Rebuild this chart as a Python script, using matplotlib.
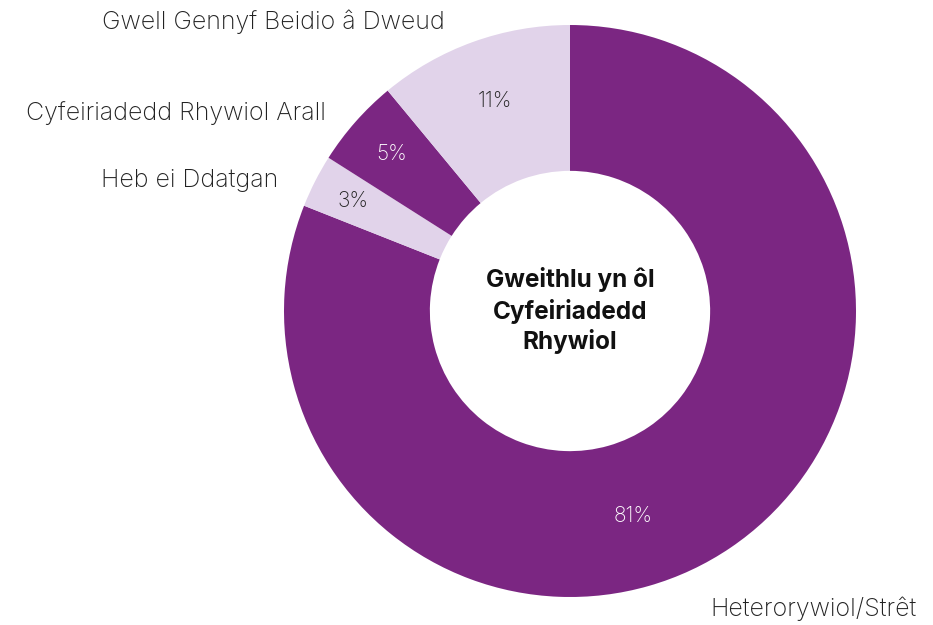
import numpy as np
import matplotlib.pyplot as plt

categories = ["Heterorywiol/Strêt", "Heb ei Ddatgan",
              "Cyfeiriadedd Rhywiol Arall", "Gwell Gennyf Beidio â Dweud"]
values = [81, 3, 5, 11]
colors = ["#7b2682", "#e1d3ea", "#7b2682", "#e1d3ea"]
pct_colors = ["white", "#222222", "white", "#222222"]
centre_title = "Gweithlu yn ôl\nCyfeiriadedd\nRhywiol"

plt.rcParams["font.family"] = ["Inter", "DejaVu Sans"]

W, H = 933, 625
cx, cy, R = 570, 311, 286

fig = plt.figure(figsize=(W / 100, H / 100), dpi=100)
ax = fig.add_axes([0, 0, 1, 1])

wedges, _ = ax.pie(values, colors=colors, startangle=90, counterclock=False,
                   radius=1, wedgeprops=dict(width=0.51, linewidth=0))

# pie() resets the limits, so set them afterwards
ax.set_xlim(-cx / R, (W - cx) / R)
ax.set_ylim(-(H - cy) / R, cy / R)
ax.set_aspect("equal")
ax.axis("off")

# percentage labels sit inside the ring at each wedge's middle angle
pct_r = [0.75, 0.85, 0.83, 0.78]
angle_shift = [-17, 0, 0, 0]
for w, v, r, shift, c in zip(wedges, values, pct_r, angle_shift, pct_colors):
    mid = np.deg2rad((w.theta1 + w.theta2) / 2 + shift)
    ax.text(r * np.cos(mid), r * np.sin(mid), f"{v}%", ha="center", va="center",
            fontsize=15, color=c, fontweight="light")

# category names outside the ring
label_pos = [(0.49, -1.042, "left"), (-1.021, 0.455, "right"),
             (-0.853, 0.692, "right"), (-0.437, 1.01, "right")]
for name, (x, y, ha) in zip(categories, label_pos):
    ax.text(x, y, name, ha=ha, va="center", fontsize=18, color="#222222",
            fontweight="light")

ax.text(0, 0, centre_title, ha="center", va="center", fontsize=17.5,
        fontweight="bold", color="#111111", linespacing=1.3)

fig.savefig("out.png", dpi=100)
